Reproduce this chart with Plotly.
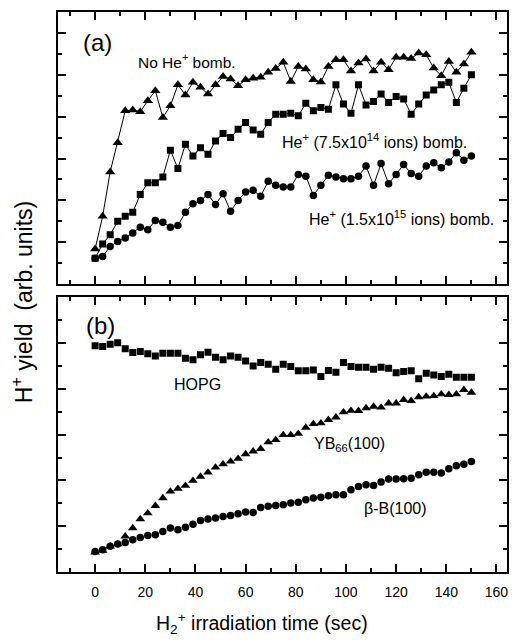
import plotly.graph_objects as go

# ---------------- data ----------------
time_s = list(range(0, 151, 3))

# panel (a)
no_he = [0.84, 1.62, 2.68, 3.38, 4.14, 4.16, 4.12, 4.38, 4.62, 3.98, 4.26, 4.76, 4.52,
         4.82, 4.70, 4.54, 4.76, 4.96, 4.90, 4.74, 4.88, 4.92, 4.94, 5.06, 5.15, 5.30,
         4.84, 5.20, 5.14, 4.88, 4.83, 5.20, 5.36, 5.36, 5.09, 5.28, 5.38, 5.09, 5.30,
         5.12, 5.42, 5.42, 5.39, 5.52, 5.48, 5.16, 4.98, 5.32, 5.06, 5.26, 5.54]
he_7p5e14 = [0.62, 0.96, 1.18, 1.50, 1.62, 1.72, 2.14, 2.42, 2.42, 2.56, 3.20, 2.76, 3.34,
             3.06, 3.26, 3.10, 3.42, 3.60, 3.50, 3.70, 3.86, 3.68, 3.58, 3.86, 4.06, 4.06,
             4.08, 4.02, 4.32, 4.14, 4.22, 4.18, 4.76, 4.30, 4.08, 4.76, 4.28, 4.36, 4.54,
             4.34, 4.48, 4.42, 4.06, 4.30, 4.52, 4.64, 4.76, 4.82, 4.34, 4.68, 5.00]
he_1p5e15 = [0.62, 0.66, 0.90, 1.02, 1.10, 1.22, 1.36, 1.30, 1.52, 1.48, 1.36, 1.40, 1.72,
             1.92, 2.00, 2.14, 1.90, 2.16, 1.74, 2.00, 2.20, 2.24, 2.10, 2.46, 2.36, 2.32,
             2.32, 2.62, 2.58, 2.12, 2.36, 2.60, 2.56, 2.52, 2.52, 2.58, 2.82, 2.36, 2.88,
             2.40, 2.62, 2.86, 2.64, 2.58, 2.82, 2.90, 2.78, 2.92, 3.14, 2.96, 3.06]

# panel (b)
hopg = [9.88, 9.85, 9.95, 10.02, 9.75, 9.59, 9.63, 9.53, 9.44, 9.56, 9.56, 9.56, 9.34,
        9.27, 9.49, 9.60, 9.38, 9.27, 9.44, 9.38, 9.22, 9.00, 9.15, 9.08, 8.86, 9.08,
        8.98, 8.79, 8.79, 8.83, 8.54, 8.80, 8.73, 9.15, 8.98, 8.95, 8.95, 8.86, 8.95,
        8.90, 8.71, 8.76, 8.79, 8.44, 8.68, 8.61, 8.54, 8.64, 8.51, 8.51, 8.51]
yb66 = [0.86, 0.93, 1.12, 1.22, 1.56, 1.92, 2.31, 2.57, 2.89, 3.23, 3.52, 3.64, 3.77,
        3.99, 4.17, 4.35, 4.57, 4.71, 4.83, 4.95, 5.15, 5.27, 5.38, 5.67, 5.77, 5.99,
        5.99, 6.04, 6.31, 6.47, 6.50, 6.65, 6.76, 6.98, 7.05, 7.04, 7.16, 7.23, 7.19,
        7.37, 7.37, 7.52, 7.48, 7.64, 7.67, 7.69, 7.77, 7.74, 7.77, 7.96, 7.84]
beta_b = [0.90, 0.97, 1.12, 1.22, 1.29, 1.41, 1.51, 1.59, 1.63, 1.77, 1.92, 1.85, 1.96,
          2.09, 2.25, 2.31, 2.36, 2.43, 2.47, 2.55, 2.62, 2.60, 2.82, 2.87, 2.91, 2.94,
          3.01, 3.05, 3.16, 3.23, 3.27, 3.33, 3.37, 3.37, 3.59, 3.74, 3.81, 3.78, 3.93,
          4.06, 4.06, 4.07, 4.10, 4.25, 4.36, 4.36, 4.32, 4.51, 4.64, 4.71, 4.83]

x_tick_vals = [0, 20, 40, 60, 80, 100, 120, 140, 160]
x_tick_text = [str(v) for v in x_tick_vals]

# ---------------- figure ----------------
FONT = "Liberation Sans, Arial, Helvetica, sans-serif"
BLACK = "#000000"

fig = go.Figure()

def add_series(x, y, symbol, size, xa, ya, with_line):
    fig.add_trace(go.Scatter(
        x=x, y=y, xaxis=xa, yaxis=ya,
        mode="lines+markers" if with_line else "markers",
        line=dict(color=BLACK, width=1),
        marker=dict(symbol=symbol, size=size, color=BLACK, line=dict(width=0)),
        showlegend=False, hoverinfo="x+y",
    ))

add_series(time_s, no_he, "triangle-up", 9, "x", "y", True)
add_series(time_s, he_7p5e14, "square", 7, "x", "y", True)
add_series(time_s, he_1p5e15, "circle", 7.5, "x", "y", True)

add_series(time_s, hopg, "square", 7, "x2", "y2", False)
add_series(time_s, yb66, "triangle-up", 8.5, "x2", "y2", False)
add_series(time_s, beta_b, "circle", 7.5, "x2", "y2", False)

common_x = dict(
    range=[-14.8, 164.2], tickmode="array", tickvals=x_tick_vals, ticktext=x_tick_text,
    ticks="inside", ticklen=8, tickwidth=1.5, tickcolor=BLACK,
    minor=dict(dtick=10, tick0=0, ticks="inside", ticklen=4, tickwidth=1.5, tickcolor=BLACK),
    showline=True, linewidth=2, linecolor=BLACK, mirror="allticks",
    showgrid=False, zeroline=False, fixedrange=True,
)
common_y = dict(
    ticks="inside", ticklen=8, tickwidth=1.5, tickcolor=BLACK,
    showline=True, linewidth=2, linecolor=BLACK, mirror="allticks",
    showgrid=False, zeroline=False, showticklabels=False, fixedrange=True,
)

fig.update_layout(
    width=514, height=641,
    margin=dict(l=58, r=5, t=12, b=69),
    paper_bgcolor="white", plot_bgcolor="white",
    font=dict(family=FONT, color=BLACK, size=13),
    xaxis=dict(common_x, domain=[0, 1], anchor="y", showticklabels=False),
    xaxis2=dict(common_x, domain=[0, 1], anchor="y2", showticklabels=True,
                tickfont=dict(size=14), ticklabelstandoff=6),
    yaxis=dict(common_y, domain=[0.514, 1.0], anchor="x", range=[0, 6.5],
               tick0=0, dtick=1,
               minor=dict(dtick=0.5, ticks="inside", ticklen=4, tickwidth=1.5, tickcolor=BLACK)),
    yaxis2=dict(common_y, domain=[0.0, 0.4905], anchor="x2", range=[0, 12],
                tick0=0, dtick=2,
                minor=dict(dtick=1, ticks="inside", ticklen=4, tickwidth=1.5, tickcolor=BLACK)),
)

ann = []
def label(text, x, y, xr, yr, size=14, **kw):
    ann.append(dict(text=text, x=x, y=y, xref=xr, yref=yr, showarrow=False,
                    font=dict(family=FONT, size=size, color=BLACK),
                    xanchor="center", yanchor="middle", **kw))

label("(a)", 1.0, 5.78, "x", "y", size=24)
label("No He<sup>+</sup> bomb.", 36.8, 5.32, "x", "y", size=15.5)
label("He<sup>+</sup> (7.5x10<sup>14</sup> ions) bomb.", 111.2, 3.42, "x", "y", size=16)
label("He<sup>+</sup> (1.5x10<sup>15</sup> ions) bomb.", 122.3, 1.58, "x", "y", size=16)

label("(b)", 2.0, 10.79, "x2", "y2", size=24)
label("HOPG", 40.8, 8.17, "x2", "y2", size=16)
label("YB<sub>66</sub>(100)", 101.4, 5.55, "x2", "y2", size=16)
label("β-B(100)", 119.6, 2.79, "x2", "y2", size=16)

# axis titles
label("H<sub>2</sub><sup>+</sup> irradiation time (sec)", (262.5 - 58) / 451, (572 - 623) / 560,
      "paper", "paper", size=19.5)
label("H<sup>+</sup> yield  (arb. units)", (22 - 58) / 451, (572 - 302) / 560,
      "paper", "paper", size=23, textangle=-90)

fig.update_layout(annotations=ann)

fig.write_html("out.html")
